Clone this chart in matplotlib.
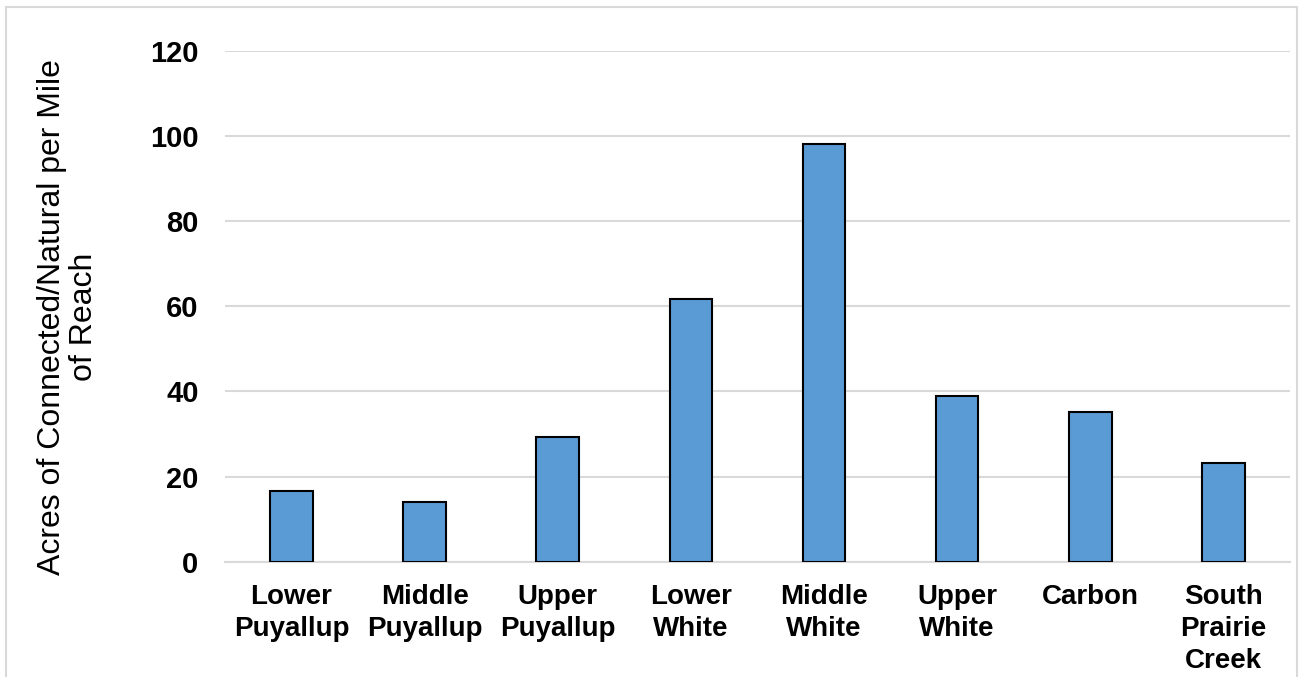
import matplotlib.pyplot as plt
from matplotlib.patches import Rectangle

plt.rcParams['font.family'] = ['Liberation Sans', 'DejaVu Sans']

# Reach names and connected/natural floodplain acres per mile
reaches = ["Lower\nPuyallup", "Middle\nPuyallup", "Upper\nPuyallup", "Lower\nWhite",
           "Middle\nWhite", "Upper\nWhite", "Carbon", "South\nPrairie\nCreek"]
acres_per_mile = [16.6, 13.9, 29.2, 61.7, 98.0, 38.9, 35.1, 23.1]
y_ticks = [0, 20, 40, 60, 80, 100, 120]


def main():
    fig = plt.figure(figsize=(12.99, 6.77), dpi=100)
    ax = fig.add_axes([0.1732, 0.1703, 0.8198, 0.7551])

    # light frame around the whole chart
    fig.patches.append(Rectangle((6 / 1299, -0.05), 1291 / 1299, 1.05 - 7 / 677,
                                 transform=fig.transFigure, fill=False,
                                 edgecolor="#D9D9D9", linewidth=1.5))

    x = range(len(reaches))
    ax.bar(x, acres_per_mile, width=0.32, color="#5B9BD5", edgecolor="black",
           linewidth=1.5, zorder=3)

    ax.set_xlim(-0.5, len(reaches) - 0.5)
    ax.set_ylim(0, 120)
    ax.set_yticks(y_ticks)
    ax.set_xticks(list(x))
    ax.set_xticklabels(reaches, fontsize=20, fontweight="bold", linespacing=1.3)
    ax.set_yticklabels([str(t) for t in y_ticks], fontsize=21, fontweight="bold")
    ax.tick_params(axis="both", length=0)
    ax.tick_params(axis="y", pad=19)
    ax.tick_params(axis="x", pad=16)

    ax.grid(axis="y", color="#D9D9D9", linewidth=1.5, zorder=0)
    for side in ["top", "right", "left"]:
        ax.spines[side].set_visible(False)
    ax.spines["bottom"].set_color("#D9D9D9")
    ax.spines["bottom"].set_linewidth(1.5)

    fig.text(68 / 1299, 1 - 317 / 677, "Acres of Connected/Natural per Mile\nof Reach",
             rotation=90, ha="center", va="center", fontsize=23, linespacing=1.1)

    fig.savefig("out.png", dpi=100)


if __name__ == "__main__":
    main()
